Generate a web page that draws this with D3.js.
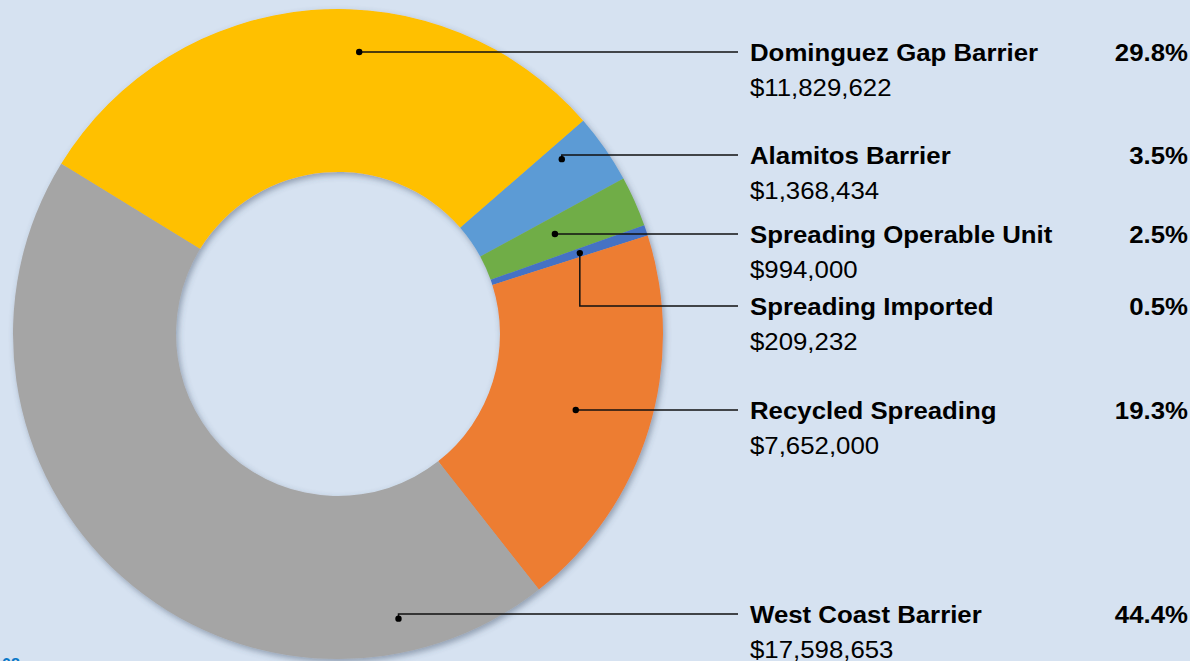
<!DOCTYPE html>
<html>
<head>
<meta charset="utf-8">
<script src="https://cdn.jsdelivr.net/npm/d3@7"></script>
<style>
  html, body { margin: 0; padding: 0; background: #d6e2f1; overflow: hidden; }
  svg { display: block; font-family: "Liberation Sans", Arial, sans-serif; }
</style>
</head>
<body>
<script>
// chart data
var names = ["Dominguez Gap Barrier", "Alamitos Barrier", "Spreading Operable Unit",
             "Spreading Imported", "Recycled Spreading", "West Coast Barrier"];
var amounts = [11829622, 1368434, 994000, 209232, 7652000, 17598653];
var percentLabels = ["29.8%", "3.5%", "2.5%", "0.5%", "19.3%", "44.4%"];
var colors = ["#ffc000", "#5b9bd5", "#70ad47", "#4472c4", "#ed7d31", "#a5a5a5"];

// label rows (y of name line) and leader anchor (angle deg, radius) in the donut
var labelY = [52, 155, 234, 306, 410, 614];
var anchors = [[4.3, 283], [52, 284], [65.7, 238], [71.5, 255], [108, 250], [168, 291]];

var width = 1190, height = 661;
var cx = 338, cy = 334, outerR = 325, innerR = 162;
var startAngle = -58.4 * Math.PI / 180;

var svg = d3.select("body").append("svg")
    .attr("width", width)
    .attr("height", height);

// soft shadow like the office chart
var defs = svg.append("defs");
var f = defs.append("filter").attr("id", "shadow")
    .attr("x", "-10%").attr("y", "-10%").attr("width", "120%").attr("height", "120%");
f.append("feDropShadow")
    .attr("dx", 2).attr("dy", 3).attr("stdDeviation", 3)
    .attr("flood-color", "#3c4a60").attr("flood-opacity", 0.45);

var pie = d3.pie()
    .sort(null)
    .startAngle(startAngle)
    .endAngle(startAngle + 2 * Math.PI);

var arc = d3.arc()
    .innerRadius(innerR)
    .outerRadius(outerR);

var g = svg.append("g")
    .attr("transform", "translate(" + cx + "," + cy + ")")
    .attr("filter", "url(#shadow)");

g.selectAll("path")
    .data(pie(amounts))
    .join("path")
    .attr("d", arc)
    .attr("fill", function(d, i) { return colors[i]; });

// leader lines and labels
var lineEnd = 738, textX = 750, pctX = 1188;
var fmt = d3.format("$,");
var stretch = 1.075; // the reference text is a little wide

function label(x, y, str, bold, anchor) {
    svg.append("text")
        .attr("transform", "translate(" + x + "," + y + ") scale(" + stretch + ",1)")
        .attr("text-anchor", anchor || "start")
        .attr("font-size", 24)
        .attr("font-weight", bold ? "bold" : "normal")
        .attr("fill", "#000")
        .text(str);
}

names.forEach(function(name, i) {
    var p = d3.pointRadial(anchors[i][0] * Math.PI / 180, anchors[i][1]);
    var px = cx + p[0], py = cy + p[1];
    var pts;
    if (Math.abs(py - labelY[i]) > 4) {
        pts = [[px, py], [px, labelY[i]], [lineEnd, labelY[i]]];
    } else {
        pts = [[px, labelY[i]], [lineEnd, labelY[i]]];
        py = labelY[i];
    }
    svg.append("path")
        .attr("d", d3.line()(pts))
        .attr("fill", "none")
        .attr("stroke", "#111")
        .attr("stroke-width", 1.5);
    svg.append("circle")
        .attr("cx", px).attr("cy", py).attr("r", 3.2)
        .attr("fill", "#000");

    label(textX, labelY[i] + 9, name, true);
    label(pctX, labelY[i] + 9, percentLabels[i], true, "end");
    label(textX, labelY[i] + 44, fmt(amounts[i]), false);
});

// page number peeking in at the corner
svg.append("text")
    .attr("x", 2).attr("y", 670)
    .attr("font-size", 16).attr("font-weight", "bold")
    .attr("fill", "#0a78c8")
    .text("08");
</script>
</body>
</html>
